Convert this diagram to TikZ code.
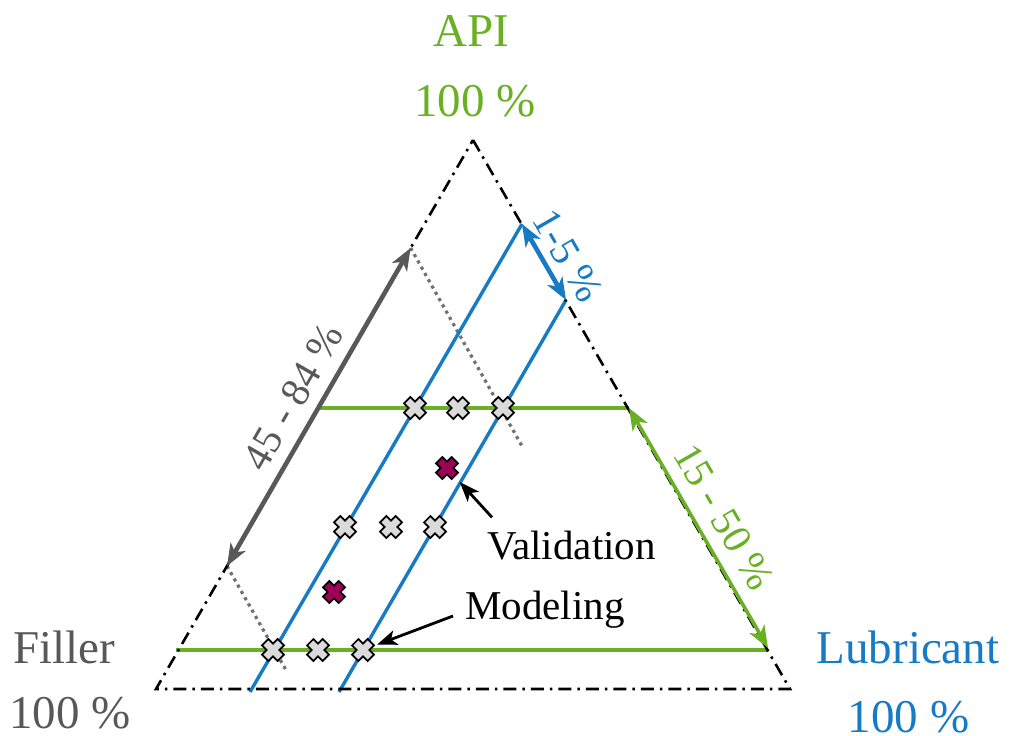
\documentclass[tikz,border=0pt]{standalone}
\usepackage{fontspec}
\setmainfont{Liberation Serif}
\usetikzlibrary{arrows.meta,calc}
\definecolor{apigreen}{RGB}{106,176,36}
\definecolor{lubblue}{RGB}{22,122,196}
\definecolor{fillgray}{RGB}{88,88,90}
\definecolor{valmag}{RGB}{158,0,88}
\definecolor{markgray}{RGB}{218,218,218}
\tikzset{
  xmarker/.style={rectangle, minimum size=28pt, inner sep=0pt, outer sep=0pt,
    path picture={\draw[line width=1.7pt, fill=#1, line join=miter,
      shift={(path picture bounding box.center)}]
      (-4.6,10.96)--(0,6.36)--(4.6,10.96)--(10.96,4.6)--(6.36,0)--(10.96,-4.6)
      --(4.6,-10.96)--(0,-6.36)--(-4.6,-10.96)--(-10.96,-4.6)--(-6.36,0)
      --(-10.96,4.6)--cycle;}},
  xmarker/.default=markgray,
  edge/.style={black, line width=2.6pt, dash pattern=on 13pt off 6pt on 2.5pt off 6pt},
  isoapi/.style={apigreen, line width=3.8pt},
  isolub/.style={lubblue, line width=3.4pt},
  isofill/.style={fillgray!85, line width=3.2pt, dash pattern=on 3.2pt off 4pt},
  rangearrow/.style={line width=#1, {Stealth[length=22pt,width=17pt,inset=6pt]}-{Stealth[length=22pt,width=17pt,inset=6pt]}},
  notearrow/.style={black, line width=2.8pt, -{Stealth[length=20pt,width=15pt,inset=5pt]}},
  corner/.style={font=\fontsize{47}{56}\selectfont, inner sep=0pt, anchor=base},
  annot/.style={font=\fontsize{41}{48}\selectfont, inner sep=0pt},
}
\begin{document}
\begin{tikzpicture}[x=1pt,y=-1pt]
\useasboundingbox (0,0) rectangle (1009,736);

% triangle corners
\coordinate (T) at (473,140);
\coordinate (BL) at (156,689);
\coordinate (BR) at (790,689);

% points on the edges and line ends
\coordinate (gTop) at (410.6,248);
\coordinate (gBot) at (227,566);
\coordinate (gTopEnd) at (522,446);
\coordinate (gBotEnd) at (286,670);
\coordinate (bT1) at (522,224);
\coordinate (bT2) at (566,300);
\coordinate (bB1) at (250,692);
\coordinate (bB2) at (339,692);
\coordinate (aU1) at (318,408);
\coordinate (aU2) at (629,408);
\coordinate (aL1) at (176,650);
\coordinate (aL2) at (768,650);

% iso-lines
\draw[isofill] (gTop) -- (gTopEnd);
\draw[isofill] (gBot) -- (gBotEnd);
\draw[isolub] (bT1) -- (bB1);
\draw[isolub] (bT2) -- (bB2);
\draw[isoapi] (aU1) -- (aU2);
\draw[isoapi] (aL1) -- (aL2);

% ternary frame
\draw[edge] (T) -- (BR) -- (BL) -- cycle;

% range arrows
\draw[rangearrow=4.6pt, fillgray] (gBot) -- (gTop);
\draw[rangearrow=4.6pt, lubblue] (bT1) -- (bT2);
\draw[rangearrow=3.6pt, apigreen] (aU2) -- ($(aL2)+(0,-2)$);

\node[annot, text=fillgray, rotate=60] (lf) at (293,397) {45 - 84 \%};
\node[annot, text=lubblue, rotate=-60] (ll) at (568,256) {1-5 \%};
\node[annot, text=apigreen, rotate=-60] (la) at (724,517) {15 - 50 \%};

% design points
\node[xmarker] (p1) at (415,408) {};
\node[xmarker] (p2) at (458,408) {};
\node[xmarker] (p3) at (503,408) {};
\node[xmarker] (p4) at (345,527) {};
\node[xmarker] (p5) at (391,527) {};
\node[xmarker] (p6) at (435,527) {};
\node[xmarker] (p7) at (273,650) {};
\node[xmarker] (p8) at (318,650) {};
\node[xmarker] (p9) at (363,650) {};
\node[xmarker=valmag] (v1) at (447,468) {};
\node[xmarker=valmag] (v2) at (334,592) {};

% annotations
\node[annot, anchor=base west] (val) at (487,559) {Validation};
\node[annot, anchor=base west] (mod) at (465,619) {Modeling};
\draw[notearrow] ([shift={(5,-13)}]val.north west) -- (v1);
\draw[notearrow] ([shift={(-12,-3)}]mod.base west) -- (p9);

% corner labels
\node[corner, text=apigreen] (api) at (471.5,46.7) {API};
\node[corner, text=apigreen] (api100) at (475,116.7) {100 \%};
\node[corner, text=fillgray] (fil) at (64,663) {Filler};
\node[corner, text=fillgray] (fil100) at (70,728) {100 \%};
\node[corner, text=lubblue] (lub) at (908,663) {Lubricant};
\node[corner, text=lubblue] (lub100) at (908.5,732) {100 \%};
\end{tikzpicture}
\end{document}
